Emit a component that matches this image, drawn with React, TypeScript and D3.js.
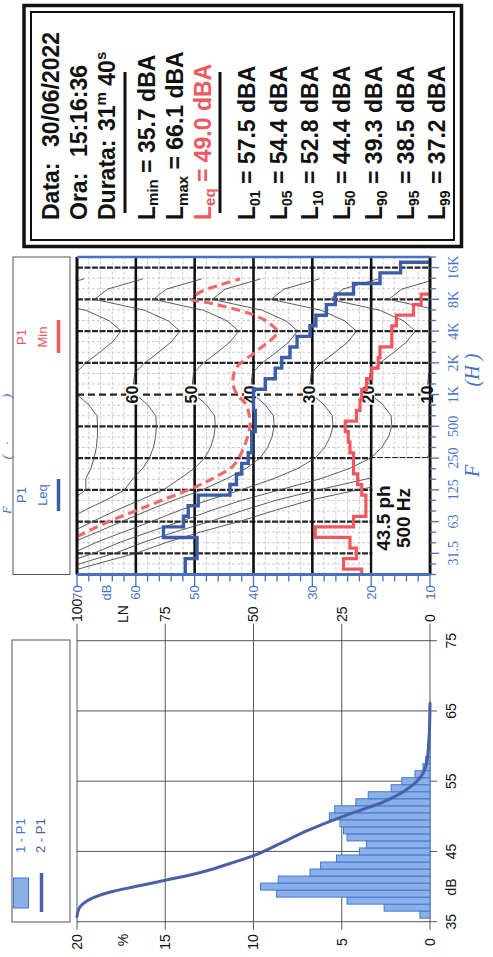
import React from "react";
import * as d3 from "d3";

const W = 493;
const H = 957;

const SANS = "'Liberation Sans', Arial, Helvetica, sans-serif";
const SERIF = "'Liberation Serif', 'Times New Roman', serif";

// ---------- Level distribution (1 dB classes, centre value in dB) ----------
const classDb = [36, 37, 38, 39, 40, 41, 42, 43, 44, 45, 46, 47, 48, 49, 50, 51, 52, 53, 54, 55, 56, 57, 58, 59, 60, 61, 62, 63, 64, 65];
const classPct = [0.57, 2.6, 4.7, 8.7, 9.6, 8.6, 6.8, 6.2, 5.3, 4.0, 3.6, 4.7, 4.9, 5.1, 5.7, 5.4, 4.2, 3.5, 2.2, 1.6, 0.85, 0.4, 0.25, 0.15, 0.12, 0.1, 0.08, 0.06, 0.05, 0.04];

// ---------- Exceedance curve LN ----------
const lnDb = [35.7, 36.5, 37.2, 38.5, 39.3, 40, 41, 42, 43, 44.4, 46, 48, 50, 51, 52, 52.8, 54.4, 55.5, 57.5, 60, 63, 66.1];
const lnPct = [100, 99.7, 99, 95, 90, 83.5, 74, 65, 58.4, 50, 43, 34.6, 24.6, 19, 13.5, 10, 5, 2.8, 1, 0.4, 0.1, 0];

const histDbTicks = [35, 45, 55, 65, 75];
const histPctTicks = [0, 5, 10, 15, 20];
const lnTicks = [0, 25, 50, 75, 100];

// ---------- Third-octave spectrum ----------
const bandCentreHz = [19.69, 24.8, 31.25, 39.37, 49.6, 62.5, 78.75, 99.21, 125, 157.5, 198.4, 250, 315, 396.9, 500, 630, 793.7, 1000, 1260, 1587, 2000, 2520, 3175, 4000, 5040, 6350, 8000, 10079, 12699, 16000, 20159];
const leqDb = [51.6, 51.6, 49.6, 49.6, 55.3, 51.9, 51.1, 49.4, 44.0, 42.9, 42.0, 40.9, 40.3, 40.3, 39.7, 39.7, 40.0, 40.0, 38.0, 36.3, 35.2, 33.8, 32.6, 30.4, 29.4, 27.6, 26.1, 23.0, 18.5, 15.0, 8.0];
const minDb = [21.6, 24.7, 22.5, 23.6, 29.5, 23.0, 20.9, 20.9, 21.6, 22.3, 23.0, 23.0, 23.6, 23.9, 24.4, 22.5, 21.9, 21.6, 20.8, 19.9, 18.8, 18.5, 16.5, 16.5, 15.7, 12.8, 11.5, 8.0, 7.5, 7.0, 6.5];

const octaveHz = [31.25, 62.5, 125, 250, 500, 1000, 2000, 4000, 8000, 16000];
const octaveLabels = ["31.5", "63", "125", "250", "500", "1K", "2K", "4K", "8K", "16K"];
const specDbLabels = [10, 20, 30, 40, 50, 60, 70];

// Equal-loudness family: shape relative to the 1 kHz level and low-frequency compression per phon
const contourHz = [20, 25, 31.5, 40, 50, 63, 80, 100, 125, 160, 200, 250, 315, 400, 500, 630, 800, 1000, 1250, 1600, 2000, 2500, 3150, 4000, 5000, 6300, 8000, 10000, 12500];
const contourShape = [40, 36, 32, 28.5, 24.5, 20.5, 16.3, 12, 7.5, 3.8, 0.8, -1.3, -2.5, -3.2, -3.5, -3.4, -2.0, 0, 0.4, 0.2, -1.5, -3.8, -6.0, -7.5, -5.5, -1.5, 7.0, 4.8, -1.2];
const contourSlope = [-0.75, -0.7, -0.64, -0.6, -0.56, -0.5, -0.46, -0.42, -0.34, -0.2, -0.12, -0.06, -0.03, -0.01, 0, 0, 0, 0, 0, 0, 0, 0, 0, 0, 0, 0, 0, 0, 0];
const contourPhon = [0, 10, 20, 30, 40, 50, 60, 70];
const contourLabels = [10, 20, 30, 40, 50, 60];

// Loudness contour through the minimum spectrum (43.5 phon)
const minContourHz = [45, 63, 80, 100, 135, 160, 210, 300, 400, 500, 630, 830, 1000, 1300, 1800, 2600, 3900, 4700, 5700, 7500, 8000, 9400, 11000, 12500];
const minContourDb = [70, 64.5, 59.8, 55.5, 49.6, 47, 43.5, 41.8, 41.0, 40.6, 40.7, 41.4, 42.8, 43.5, 42.9, 39.4, 36.0, 37.2, 40.0, 48.0, 50.5, 49.0, 45.6, 42.3];

// ---------- Measurement summary ----------
const statSub = ["01", "05", "10", "50", "90", "95", "99"];
const statVal = [57.5, 54.4, 52.8, 44.4, 39.3, 38.5, 37.2];
const lminVal = 35.7;
const lmaxVal = 66.1;
const leqVal = 49.0;

const AXIS_BLUE = "#4672c4";
const LEQ_BLUE = "#3b5ca6";
const MIN_RED = "#ee585e";
const DASH_RED = "#f06a6c";
const HIST_FILL = "#8cafe6";
const HIST_STROKE = "#3f7ad6";
const CUM_LINE = "#4861a4";

export default function App() {
  // histogram frame
  const xH = d3.scaleLinear().domain([35, 75]).range([35.3, 316.3]);
  const yPct = d3.scaleLinear().domain([0, 20]).range([430, 77]);
  const yLN = d3.scaleLinear().domain([0, 100]).range([430, 77]);

  // spectrum frame
  const fMin = bandCentreHz[0];
  const fMax = bandCentreHz[bandCentreHz.length - 1];
  const xF = d3.scaleLog().domain([fMin, fMax]).range([382.5, 700]);
  const yS = d3.scaleLinear().domain([10, 70]).range([430, 77]);
  const [u0, u1] = xF.range();
  const [vBot, vTop] = yS.range();

  const sixth = Math.pow(2, 1 / 6);
  const stepPath = (levels: number[]) => {
    const pts: [number, number][] = levels.map((L, i) => [Math.max(fMin, bandCentreHz[i] / sixth), L]);
    pts.push([fMax, levels[levels.length - 1]]);
    return d3
      .line<[number, number]>()
      .x((d) => xF(d[0]))
      .y((d) => yS(d[1]))
      .curve(d3.curveStepAfter)(pts) as string;
  };

  const contourPath = (p: number) =>
    d3
      .line<number>()
      .x((_, i) => xF(contourHz[i]))
      .y((s, i) => yS(p + s + (p - 43.5) * contourSlope[i]))(contourShape) as string;

  const minContourPath = d3
    .line<number>()
    .x((_, i) => xF(minContourHz[i]))
    .y((d) => yS(d))
    .curve(d3.curveCatmullRom.alpha(0.5))(minContourDb) as string;

  const cumPath = d3
    .line<number>()
    .x((_, i) => xH(lnDb[i]))
    .y((d) => yLN(d))
    .curve(d3.curveMonotoneX)(lnPct) as string;

  const minorDb = d3.range(12, 70, 2).filter((d) => d % 10 !== 0);
  const isOctave = (f: number) => octaveHz.some((o) => Math.abs(o - f) / o < 0.01);

  return (
    <svg
      width={W}
      height={H}
      viewBox={`0 0 ${W} ${H}`}
      style={{ position: "absolute", left: 0, top: 0, background: "#fff" }}
    >
      <rect x={0} y={0} width={W} height={H} fill="#fff" />
      <defs>
        <clipPath id="specClip">
          <rect x={u0} y={vTop} width={u1 - u0} height={vBot - vTop} />
        </clipPath>
      </defs>
      <g transform={`translate(0,${H}) rotate(-90)`}>
        {/* page heading along the sheet edge */}
        <g fontFamily={SERIF} fontStyle="italic" fontSize={13} fill={AXIS_BLUE} textAnchor="middle">
          <text x={447} y={11}>F</text>
          <text x={500} y={11}>(</text>
          <text x={514} y={11}>·</text>
          <text x={561} y={11}>)</text>
        </g>

        {/* ================= Level distribution panel ================= */}
        <g>
          <rect x={35} y={12} width={282} height={58} fill="none" stroke="#555" strokeWidth={1} />
          <rect x={49} y={13.5} width={30} height={15} fill={HIST_FILL} stroke={HIST_STROKE} strokeWidth={1} />
          <text x={104} y={25} fontFamily={SANS} fontSize={13} fill={HIST_STROKE}>1 - P1</text>
          <line x1={45} x2={84} y1={41.5} y2={41.5} stroke={CUM_LINE} strokeWidth={3.5} />
          <text x={104} y={45} fontFamily={SANS} fontSize={13} fill="#4a5f96">2 - P1</text>

          {histDbTicks.map((d) => (
            <line key={"hv" + d} x1={xH(d)} x2={xH(d)} y1={yPct(20)} y2={yPct(0) + 7} stroke="#444" strokeWidth={0.9} />
          ))}
          {histPctTicks.map((p) => (
            <line key={"hh" + p} x1={xH(35) - 8} x2={xH(75) + 17} y1={yPct(p)} y2={yPct(p)} stroke="#444" strokeWidth={0.9} />
          ))}

          {classDb.map((d, i) => (
            <rect
              key={"bar" + d}
              x={xH(d - 0.5)}
              y={yPct(classPct[i])}
              width={xH(d + 0.5) - xH(d - 0.5)}
              height={yPct(0) - yPct(classPct[i])}
              fill={HIST_FILL}
              stroke={HIST_STROKE}
              strokeWidth={1}
            />
          ))}
          <path d={cumPath} fill="none" stroke={CUM_LINE} strokeWidth={3} strokeLinecap="round" />

          {histPctTicks.map((p) => (
            <text key={"pl" + p} x={15} y={yPct(p)} dy="0.35em" textAnchor="middle" fontFamily={SANS} fontSize={14} fill="#111">
              {p}
            </text>
          ))}
          <text x={17} y={123} dy="0.35em" textAnchor="middle" fontFamily={SANS} fontSize={14} fill="#111">%</text>
          {lnTicks.map((p) => (
            <text key={"ln" + p} x={335} y={yLN(p)} dy="0.35em" textAnchor="start" fontFamily={SANS} fontSize={14} fill="#111">
              {p}
            </text>
          ))}
          <text x={343} y={123} dy="0.35em" textAnchor="middle" fontFamily={SANS} fontSize={14} fill="#111">LN</text>
          {histDbTicks.map((d) => (
            <text key={"dl" + d} x={xH(d)} y={451} dy="0.35em" textAnchor="middle" fontFamily={SANS} fontSize={14} fill="#111">
              {d}
            </text>
          ))}
          <text x={70} y={451} dy="0.35em" textAnchor="middle" fontFamily={SANS} fontSize={14} fill="#111">dB</text>
        </g>

        {/* ================= Third-octave spectrum panel ================= */}
        <g>
          <rect x={u0} y={13} width={u1 - u0} height={57} fill="none" stroke="#555" strokeWidth={1} />
          <text x={462} y={26} textAnchor="middle" fontFamily={SANS} fontSize={13} fill={AXIS_BLUE}>P1</text>
          <text x={462} y={47} textAnchor="middle" fontFamily={SANS} fontSize={13} fill={AXIS_BLUE}>Leq</text>
          <line x1={446} x2={478} y1={58.5} y2={58.5} stroke={LEQ_BLUE} strokeWidth={3.5} />
          <text x={620} y={26} textAnchor="middle" fontFamily={SANS} fontSize={13} fill={MIN_RED}>P1</text>
          <text x={620} y={47} textAnchor="middle" fontFamily={SANS} fontSize={13} fill={MIN_RED}>Min</text>
          <line x1={604} x2={637} y1={58.5} y2={58.5} stroke={MIN_RED} strokeWidth={3.5} />

          {/* light grid */}
          {minorDb.map((d) => (
            <line key={"md" + d} x1={u0} x2={u1} y1={yS(d)} y2={yS(d)} stroke="#c6c6c6" strokeWidth={0.9} strokeDasharray="3 2" />
          ))}
          {bandCentreHz.filter((f) => !isOctave(f)).map((f) => (
            <line key={"mf" + f} x1={xF(f)} x2={xF(f)} y1={vTop} y2={vBot} stroke="#c6c6c6" strokeWidth={0.9} strokeDasharray="3 2" />
          ))}
          {/* octave lines */}
          {octaveHz.map((f) => (
            <line
              key={"of" + f}
              x1={xF(f)}
              x2={xF(f)}
              y1={vTop}
              y2={vBot}
              stroke="#262626"
              strokeWidth={2.4}
              strokeDasharray={f === 1000 ? "7 4" : "6 1.5"}
            />
          ))}
          {/* 10 dB lines */}
          {specDbLabels.map((d) => (
            <line key={"td" + d} x1={u0} x2={u1} y1={yS(d)} y2={yS(d)} stroke="#111" strokeWidth={2.6} />
          ))}

          <g clipPath="url(#specClip)">
            {contourPhon.map((p) => (
              <path key={"ct" + p} d={contourPath(p)} fill="none" stroke="#4a4a4a" strokeWidth={0.9} />
            ))}
          </g>
          {contourLabels.map((p) => (
            <g key={"cl" + p}>
              <rect x={xF(1000) - 10} y={yS(p) - 9.5} width={20} height={13} fill="#fff" />
              <text x={xF(1000)} y={yS(p) - 3} dy="0.35em" textAnchor="middle" fontFamily={SANS} fontWeight="bold" fontSize={16} fill="#111">
                {p}
              </text>
            </g>
          ))}

          {/* loudness note */}
          <rect x={u0} y={yS(20) + 1.3} width={xF(250) - u0} height={yS(10) - yS(20) - 2.6} fill="#fff" />
          <text x={439} y={390} textAnchor="middle" fontFamily={SANS} fontWeight="bold" fontSize={19} fill="#111">43.5 ph</text>
          <text x={439} y={410} textAnchor="middle" fontFamily={SANS} fontWeight="bold" fontSize={19} fill="#111">500 Hz</text>

          <g clipPath="url(#specClip)">
            <path d={minContourPath} fill="none" stroke={DASH_RED} strokeWidth={3.2} strokeDasharray="9 5" />
            <path d={stepPath(minDb)} fill="none" stroke={MIN_RED} strokeWidth={3.2} />
            <path d={stepPath(leqDb)} fill="none" stroke={LEQ_BLUE} strokeWidth={3.4} />
          </g>

          {/* frame */}
          <line x1={u0} x2={u1} y1={vTop} y2={vTop} stroke="#111" strokeWidth={2.6} />
          <line x1={u0} x2={u1} y1={vBot} y2={vBot} stroke="#111" strokeWidth={2.6} />
          <line x1={u0} x2={u0} y1={vTop} y2={vBot} stroke={AXIS_BLUE} strokeWidth={3} />
          <line x1={u1} x2={u1} y1={vTop} y2={vBot} stroke={AXIS_BLUE} strokeWidth={2.5} />

          {/* dB axis */}
          {d3.range(10, 71, 2).map((d) => (
            <line key={"dt" + d} x1={u0} x2={u0 - (d % 10 === 0 ? 12 : 7)} y1={yS(d)} y2={yS(d)} stroke={AXIS_BLUE} strokeWidth={1.3} />
          ))}
          {specDbLabels.map((d) => (
            <text key={"dbl" + d} x={u0 - 18} y={yS(d)} dy="0.35em" textAnchor="middle" fontFamily={SANS} fontSize={13} fill={AXIS_BLUE}>
              {d}
            </text>
          ))}
          <text x={u0 - 18} y={106} dy="0.35em" textAnchor="middle" fontFamily={SANS} fontSize={13} fill={AXIS_BLUE}>dB</text>

          {/* frequency axis */}
          {bandCentreHz.map((f) => (
            <line key={"ft" + f} x1={xF(f)} x2={xF(f)} y1={vBot} y2={vBot + (isOctave(f) ? 9 : 6)} stroke={AXIS_BLUE} strokeWidth={1.3} />
          ))}
          {octaveHz.map((f, i) => (
            <text key={"fl" + f} x={xF(f)} y={453} dy="0.35em" textAnchor="middle" fontFamily={SERIF} fontSize={14} fill={AXIS_BLUE}>
              {octaveLabels[i]}
            </text>
          ))}
          <text x={486} y={479} textAnchor="middle" fontFamily={SERIF} fontStyle="italic" fontSize={20} fill={AXIS_BLUE}>F</text>
          <text x={587} y={479} textAnchor="middle" fontFamily={SERIF} fontStyle="italic" fontSize={20} fill={AXIS_BLUE}>(H )</text>
        </g>

        {/* ================= Summary panel ================= */}
        <g fontFamily={SANS} fontWeight="bold" fill="#111">
          <rect x={710.5} y={24} width={241} height={437.5} fill="none" stroke="#111" strokeWidth={3.5} />
          <rect x={717} y={31} width={228} height={423} fill="none" stroke="#111" strokeWidth={2} />

          <text x={737} y={59} fontSize={23}>Data:</text>
          <text x={810} y={59} fontSize={23}>30/06/2022</text>
          <text x={737} y={87} fontSize={23}>Ora:</text>
          <text x={800} y={87} fontSize={23}>15:16:36</text>
          <text x={737} y={115} fontSize={23}>Durata:</text>
          <text x={826} y={115} fontSize={23}>
            31<tspan fontSize={15} dy={-9}>m</tspan>
            <tspan dy={9}> 40</tspan>
            <tspan fontSize={15} dy={-9}>s</tspan>
          </text>
          <line x1={744} x2={885} y1={125} y2={125} stroke="#111" strokeWidth={3} />

          <text x={737} y={155} fontSize={23}>
            L<tspan fontSize={15} dy={3}>min</tspan>
            <tspan dy={-3}>{` = ${lminVal.toFixed(1)} dBA`}</tspan>
          </text>
          <text x={737} y={183} fontSize={23}>
            L<tspan fontSize={15} dy={5}>max</tspan>
            <tspan dy={-5}>{` = ${lmaxVal.toFixed(1)} dBA`}</tspan>
          </text>
          <text x={737} y={211} fontSize={23} fill={MIN_RED}>
            L<tspan fontSize={15} dy={4}>eq</tspan>
            <tspan dy={-4}>{` = ${leqVal.toFixed(1)} dBA`}</tspan>
          </text>
          <line x1={744} x2={885} y1={220} y2={220} stroke="#111" strokeWidth={3} />

          {statSub.map((s, i) => (
            <text key={"st" + s} x={737} y={255 + i * 31.7} fontSize={23}>
              L<tspan fontSize={14} dy={5}>{s}</tspan>
              <tspan dy={-5}>{` = ${statVal[i].toFixed(1)} dBA`}</tspan>
            </text>
          ))}
        </g>
      </g>
    </svg>
  );
}
